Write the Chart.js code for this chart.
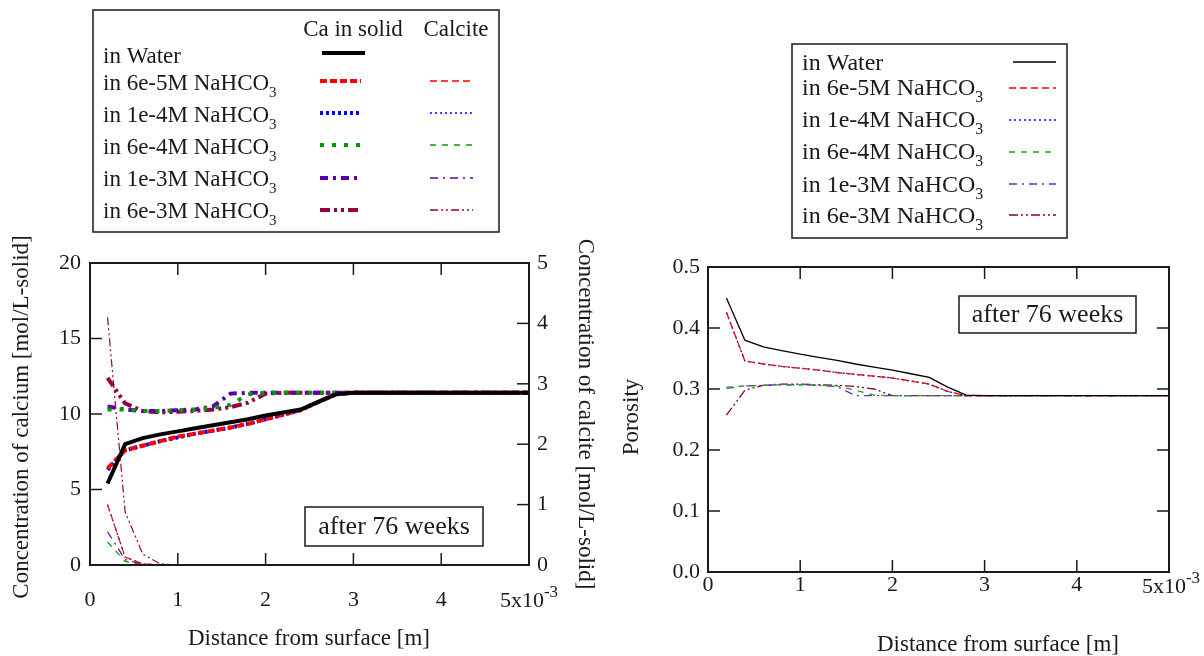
<!DOCTYPE html>
<html><head><meta charset="utf-8">
<script src="https://cdn.jsdelivr.net/npm/chart.js@4.4.1/dist/chart.umd.min.js"></script>
<style>
html,body{margin:0;padding:0;background:#fff;width:1204px;height:656px;overflow:hidden;}
.wrap{position:absolute;top:0;width:602px;height:656px;}
canvas{display:block;}
</style></head><body>
<div class="wrap" style="left:0"><canvas id="c1" width="602" height="656" style="width:602px;height:656px"></canvas></div>
<div class="wrap" style="left:602px"><canvas id="c2" width="602" height="656" style="width:602px;height:656px"></canvas></div>
<script>
// ---------- data (distance in 1e-3 m) ----------
const distance = [0.2,0.4,0.6,0.8,1.0,1.2,1.4,1.6,1.8,2.0,2.2,2.4,2.6,2.8,3.0,3.5,4.0,4.5,5.0];

// Ca in solid [mol/L-solid]
const caWater = [5.4,8.0,8.4,8.65,8.85,9.05,9.25,9.45,9.65,9.9,10.1,10.3,10.8,11.3,11.4,11.4,11.4,11.4,11.4];
const ca6e5   = [6.4,7.6,7.9,8.2,8.5,8.7,8.9,9.1,9.35,9.65,9.95,10.25,10.8,11.3,11.4,11.4,11.4,11.4,11.4];
const ca1e4   = [6.3,7.6,7.9,8.2,8.45,8.7,8.9,9.1,9.35,9.65,9.95,10.25,10.8,11.35,11.4,11.4,11.4,11.4,11.4];
const ca6e4   = [10.3,10.3,10.2,10.2,10.25,10.3,10.4,10.6,11.3,11.4,11.4,11.4,11.4,11.4,11.4,11.4,11.4,11.4,11.4];
const ca1e3   = [10.5,10.3,10.2,10.2,10.25,10.3,10.5,11.35,11.4,11.4,11.4,11.4,11.4,11.4,11.4,11.4,11.4,11.4,11.4];
const ca6e3   = [12.4,10.7,10.2,10.1,10.15,10.2,10.3,10.45,10.75,11.35,11.4,11.4,11.4,11.4,11.4,11.4,11.4,11.4,11.4];

// Calcite [mol/L-solid]
const cal6e5 = [1.0,0.13,0.02,0,0,0,0,0,0,0,0,0,0,0,0,0,0,0,0];
const cal1e4 = [1.0,0.13,0.02,0,0,0,0,0,0,0,0,0,0,0,0,0,0,0,0];
const cal6e4 = [0.38,0.06,0,0,0,0,0,0,0,0,0,0,0,0,0,0,0,0,0];
const cal1e3 = [0.55,0.09,0.01,0,0,0,0,0,0,0,0,0,0,0,0,0,0,0,0];
const cal6e3 = [4.1,0.88,0.18,0.02,0,0,0,0,0,0,0,0,0,0,0,0,0,0,0];

// Porosity
const porWater = [0.449,0.380,0.369,0.363,0.357,0.352,0.347,0.341,0.336,0.331,0.325,0.319,0.303,0.290,0.289,0.289,0.289,0.289,0.289];
const por6e5   = [0.426,0.346,0.341,0.337,0.334,0.331,0.327,0.324,0.321,0.318,0.313,0.308,0.296,0.289,0.289,0.289,0.289,0.289,0.289];
const por1e4   = [0.425,0.346,0.341,0.337,0.334,0.331,0.327,0.324,0.321,0.318,0.313,0.308,0.296,0.289,0.289,0.289,0.289,0.289,0.289];
const por6e4   = [0.303,0.305,0.306,0.307,0.307,0.306,0.305,0.298,0.290,0.289,0.289,0.289,0.289,0.289,0.289,0.289,0.289,0.289,0.289];
const por1e3   = [0.301,0.305,0.306,0.307,0.307,0.306,0.304,0.289,0.289,0.289,0.289,0.289,0.289,0.289,0.289,0.289,0.289,0.289,0.289];
const por6e3   = [0.257,0.298,0.306,0.308,0.308,0.307,0.306,0.304,0.300,0.289,0.289,0.289,0.289,0.289,0.289,0.289,0.289,0.289,0.289];

// text
const legendMain = ['in Water','in 6e-5M NaHCO','in 1e-4M NaHCO','in 6e-4M NaHCO','in 1e-3M NaHCO','in 6e-3M NaHCO'];
const legendSub  = ['','3','3','3','3','3'];
const colHeaders = ['Ca in solid','Calcite'];
const xTicks = [0,1,2,3,4,5];
const caTicks = [0,5,10,15,20];
const calciteTicks = [0,1,2,3,4,5];
const porosityTicks = [0,0.1,0.2,0.3,0.4,0.5];
const xTitle = 'Distance from surface [m]';
const yTitleCa = 'Concentration of calcium [mol/L-solid]';
const yTitleCal = 'Concentration of calcite [mol/L-solid]';
const yTitlePor = 'Porosity';
const note = 'after 76 weeks';

const FONT = "'Liberation Serif','Times New Roman',serif";
const INK = '#1a1a1a';
const C = {red:'#ff0000', blue:'#0000ff', green:'#009a00', purple:'#5a00aa', maroon:'#990040'};

function pts(vals){ return distance.map((x,i)=>({x:x,y:vals[i]})); }
function ds(label, vals, color, width, dash, axis){
  return {label, data:pts(vals), borderColor:color, borderWidth:width, borderDash:dash,
          pointRadius:0, fill:false, tension:0, yAxisID:axis};
}

function subText(ctx,x,y,main,sub,size){
  ctx.font = size+'px '+FONT; ctx.textAlign='left'; ctx.textBaseline='alphabetic';
  ctx.fillText(main,x,y);
  if(sub){ const w=ctx.measureText(main).width; ctx.font=Math.round(size*0.66)+'px '+FONT; ctx.fillText(sub,x+w,y+size*0.3); }
}
function sample(ctx,d,x1,x2,y){
  ctx.save(); ctx.strokeStyle=d.borderColor; ctx.setLineDash(d.borderDash||[]);
  ctx.lineWidth = d.borderWidth < 2 ? 1.5 : d.borderWidth;
  ctx.beginPath(); ctx.moveTo(x1,y); ctx.lineTo(x2,y); ctx.stroke(); ctx.restore();
}
function frame(ctx,ca){
  ctx.save(); ctx.strokeStyle=INK; ctx.lineWidth=2; ctx.setLineDash([]);
  ctx.strokeRect(ca.left,ca.top,ca.right-ca.left,ca.bottom-ca.top); ctx.restore();
}
function tickLine(ctx,x1,y1,x2,y2){ ctx.beginPath(); ctx.moveTo(x1,y1); ctx.lineTo(x2,y2); ctx.stroke(); }
function expLabel(ctx,px,baseline,size){
  ctx.save(); ctx.fillStyle=INK; ctx.textBaseline='alphabetic'; ctx.textAlign='left';
  ctx.font=size+'px '+FONT; const w1=ctx.measureText('5x10').width;
  const ss=Math.round(size*0.75); ctx.font=ss+'px '+FONT; const w2=ctx.measureText('-3').width;
  const x0=px-(w1+w2)/2;
  ctx.font=size+'px '+FONT; ctx.fillText('5x10',x0,baseline);
  ctx.font=ss+'px '+FONT; ctx.fillText('-3',x0+w1,baseline-10);
  ctx.restore();
}
function rotText(ctx,txt,x,y,ang,size){
  ctx.save(); ctx.translate(x,y); ctx.rotate(ang); ctx.fillStyle=INK; ctx.font=size+'px '+FONT;
  ctx.textAlign='center'; ctx.textBaseline='middle'; ctx.fillText(txt,0,0); ctx.restore();
}
function noteBox(ctx,x,y,w,h,size){
  ctx.save(); ctx.fillStyle='#fff'; ctx.fillRect(x,y,w,h); ctx.strokeStyle=INK; ctx.lineWidth=1.5; ctx.strokeRect(x,y,w,h);
  ctx.fillStyle=INK; ctx.font=size+'px '+FONT; ctx.textAlign='center'; ctx.textBaseline='middle';
  ctx.fillText(note,x+w/2,y+h/2+1); ctx.restore();
}

const tickFont = {family:FONT, size:22};
const noGrid = {display:false, drawTicks:false};

// ---------- left chart ----------
const caSets = [
  ds('Ca in Water', caWater, '#000000', 4, [], 'y'),
  ds('Ca 6e-5M', ca6e5, C.red, 4, [7,3], 'y'),
  ds('Ca 1e-4M', ca1e4, C.blue, 4, [3,3], 'y'),
  ds('Ca 6e-4M', ca6e4, C.green, 4, [4,8], 'y'),
  ds('Ca 1e-3M', ca1e3, C.purple, 4, [8,5,3,5], 'y'),
  ds('Ca 6e-3M', ca6e3, C.maroon, 4, [10,4,3,4,3,4], 'y')
];
const calSets = [
  ds('Calcite 6e-5M', cal6e5, C.red, 1.2, [7,4], 'y2'),
  ds('Calcite 1e-4M', cal1e4, C.blue, 1.2, [2,3], 'y2'),
  ds('Calcite 6e-4M', cal6e4, C.green, 1.2, [6,6], 'y2'),
  ds('Calcite 1e-3M', cal1e3, C.purple, 1.2, [8,5,2,5], 'y2'),
  ds('Calcite 6e-3M', cal6e3, C.maroon, 1.2, [8,3,2,3,2,3], 'y2')
];

const leftDecor = {
  id:'leftDecor',
  afterDraw(chart){
    const ctx=chart.ctx, ca=chart.chartArea, sx=chart.scales.x, sy=chart.scales.y, sy2=chart.scales.y2;
    frame(ctx,ca);
    ctx.save(); ctx.strokeStyle=INK; ctx.lineWidth=1.5;
    xTicks.slice(1,-1).forEach(v=>{const p=sx.getPixelForValue(v); tickLine(ctx,p,ca.bottom,p,ca.bottom-12); tickLine(ctx,p,ca.top,p,ca.top+12);});
    caTicks.slice(1,-1).forEach(v=>{const p=sy.getPixelForValue(v); tickLine(ctx,ca.left,p,ca.left+12,p);});
    calciteTicks.slice(1,-1).forEach(v=>{const p=sy2.getPixelForValue(v); tickLine(ctx,ca.right,p,ca.right-12,p);});
    ctx.restore();
    expLabel(ctx,sx.getPixelForValue(5),607,22);
    rotText(ctx,yTitleCa,22,417,-Math.PI/2,23);
    rotText(ctx,yTitleCal,585,414,Math.PI/2,23);
    ctx.save(); ctx.fillStyle=INK; ctx.font='23px '+FONT; ctx.textAlign='center'; ctx.textBaseline='middle';
    ctx.fillText(xTitle,309,639); ctx.restore();
    noteBox(ctx,305,507,178,39,26);
    // legend
    ctx.save(); ctx.fillStyle='#fff'; ctx.fillRect(93,10,406,222); ctx.strokeStyle=INK; ctx.lineWidth=1.5; ctx.strokeRect(93,10,406,222);
    ctx.fillStyle=INK; ctx.font='23px '+FONT; ctx.textAlign='center'; ctx.textBaseline='alphabetic';
    ctx.fillText(colHeaders[0],353,36); ctx.fillText(colHeaders[1],456,36);
    const base=[63,90,122,154,186,218], ly=[53,81,113,145,178,210];
    for(let i=0;i<6;i++){
      ctx.fillStyle=INK; subText(ctx,103,base[i],legendMain[i],legendSub[i],23);
      sample(ctx,caSets[i],i===0?322:320,i===0?365:361,ly[i]);
      if(i>0) sample(ctx,calSets[i-1],430,473,ly[i]);
    }
    ctx.restore();
  }
};

new Chart(document.getElementById('c1'),{
  type:'line',
  data:{datasets:[...calSets, ...caSets]},
  options:{
    responsive:false, animation:false, devicePixelRatio:1,
    layout:{padding:{top:263,left:0,right:0,bottom:0}},
    plugins:{legend:{display:false}, tooltip:{enabled:false}},
    scales:{
      x:{type:'linear', min:0, max:5, grid:noGrid, border:{display:false},
         ticks:{stepSize:1, font:tickFont, color:INK, padding:22, maxRotation:0, autoSkip:false,
                callback:v=> v===5 ? '' : String(v)},
         afterFit:s=>{s.height=91;}},
      y:{position:'left', min:0, max:20, grid:noGrid, border:{display:false},
         ticks:{stepSize:5, font:tickFont, color:INK, padding:9},
         afterFit:s=>{s.width=90;}},
      y2:{position:'right', min:0, max:5, grid:noGrid, border:{display:false},
         ticks:{stepSize:1, font:tickFont, color:INK, padding:8},
         afterFit:s=>{s.width=73;}}
    }
  },
  plugins:[leftDecor]
});

// ---------- right chart ----------
const porSets = [
  ds('in Water', porWater, '#000000', 1.3, [], 'y'),
  ds('in 6e-5M', por6e5, C.red, 1.3, [7,4], 'y'),
  ds('in 1e-4M', por1e4, C.blue, 1.3, [2,3], 'y'),
  ds('in 6e-4M', por6e4, '#22a022', 1.3, [6,6], 'y'),
  ds('in 1e-3M', por1e3, '#6a2ec8', 1.3, [8,5,2,5], 'y'),
  ds('in 6e-3M', por6e3, '#880030', 1.3, [9,3,2,3,2,3], 'y')
];

const rightDecor = {
  id:'rightDecor',
  afterDraw(chart){
    const ctx=chart.ctx, ca=chart.chartArea, sx=chart.scales.x, sy=chart.scales.y;
    frame(ctx,ca);
    ctx.save(); ctx.strokeStyle=INK; ctx.lineWidth=1.5;
    xTicks.slice(1,-1).forEach(v=>{const p=sx.getPixelForValue(v); tickLine(ctx,p,ca.bottom,p,ca.bottom-12); tickLine(ctx,p,ca.top,p,ca.top+12);});
    porosityTicks.slice(1,-1).forEach(v=>{const p=sy.getPixelForValue(v); tickLine(ctx,ca.left,p,ca.left+12,p); tickLine(ctx,ca.right,p,ca.right-12,p);});
    ctx.restore();
    expLabel(ctx,sx.getPixelForValue(5)+2,593,22);
    rotText(ctx,yTitlePor,30,417,-Math.PI/2,23);
    ctx.save(); ctx.fillStyle=INK; ctx.font='23px '+FONT; ctx.textAlign='center'; ctx.textBaseline='middle';
    ctx.fillText(xTitle,396,645); ctx.restore();
    noteBox(ctx,357,296,177,37,26);
    ctx.save(); ctx.fillStyle='#fff'; ctx.fillRect(190,44,275,194); ctx.strokeStyle=INK; ctx.lineWidth=1.5; ctx.strokeRect(190,44,275,194);
    const base=[70,95,127,159,192,223], ly=[62,88,120,152,184,215];
    for(let i=0;i<6;i++){
      ctx.fillStyle=INK; subText(ctx,200,base[i],legendMain[i],legendSub[i],24);
      sample(ctx,porSets[i],i===0?411:407,454,ly[i]);
    }
    ctx.restore();
  }
};

new Chart(document.getElementById('c2'),{
  type:'line',
  data:{datasets:porSets},
  options:{
    responsive:false, animation:false, devicePixelRatio:1,
    layout:{padding:{top:267,left:0,right:35,bottom:0}},
    plugins:{legend:{display:false}, tooltip:{enabled:false}},
    scales:{
      x:{type:'linear', min:0, max:5, grid:noGrid, border:{display:false},
         ticks:{stepSize:1, font:tickFont, color:INK, padding:0, maxRotation:0, autoSkip:false,
                callback:v=> v===5 ? '' : String(v)},
         afterFit:s=>{s.height=84;}},
      y:{position:'left', min:0, max:0.5, grid:noGrid, border:{display:false},
         ticks:{stepSize:0.1, font:tickFont, color:INK, padding:8, callback:v=>Number(v).toFixed(1)},
         afterFit:s=>{s.width=106;}}
    }
  },
  plugins:[rightDecor]
});
</script></body></html>
